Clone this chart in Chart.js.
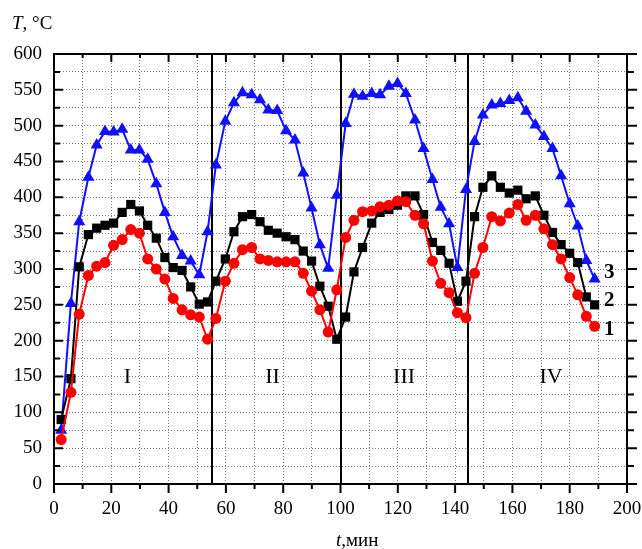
<!DOCTYPE html>
<html>
<head>
<meta charset="utf-8">
<script src="https://cdn.jsdelivr.net/npm/chart.js@4.4.1/dist/chart.umd.min.js"></script>
<style>
  html, body { margin: 0; padding: 0; background: #fff; }
  #tempChart { display: block; }
</style>
</head>
<body>
<canvas id="tempChart" width="642" height="549"></canvas>
<script>
// time of each measurement, min
const minutes = [
    2.5, 5.9, 8.8, 12, 14.9, 17.8, 20.8, 23.8, 26.8, 29.8, 32.7, 35.7, 38.7, 41.6, 44.7, 47.7, 50.7, 53.6,
    56.5, 59.8, 62.8, 65.8, 69, 71.9, 74.8, 77.9, 81, 84.1, 87, 89.9, 92.8, 95.7, 98.7,
    101.8, 104.7, 107.7, 110.9, 113.8, 116.9, 119.9, 122.8, 126, 129, 132.1, 135, 137.9, 140.8, 143.8,
    146.8, 149.7, 152.8, 155.8, 158.9, 161.9, 164.8, 168, 171, 174, 177, 180, 182.8, 185.8, 188.7
];
// curve 1 (red circles)
const temp1 = [
    62, 128, 237, 291, 304, 309, 333, 341, 355, 350, 314, 300, 286, 259, 243, 236, 233, 202,
    231, 283, 308, 327, 330, 314, 312, 310, 310, 310, 294, 269, 243, 212, 271,
    344, 368, 380, 381, 387, 389, 395, 394, 375, 363, 311, 280, 267, 239, 232,
    294, 330, 373, 367, 378, 390, 368, 375, 356, 334, 314, 288, 264, 234, 220
];
// curve 2 (black squares)
const temp2 = [
    90, 147, 303, 348, 357, 361, 364, 379, 390, 381, 361, 343, 316, 302, 298, 275, 251, 254,
    283, 314, 352, 373, 376, 366, 354, 350, 345, 341, 325, 311, 276, 248, 202,
    233, 296, 330, 364, 379, 383, 389, 402, 402, 376, 337, 326, 308, 255, 283,
    373, 414, 430, 414, 406, 410, 398, 402, 375, 351, 334, 322, 309, 261, 250
];
// curve 3 (blue triangles)
const temp3 = [
    75, 252, 366, 428, 473, 492, 491, 495, 466, 466, 453, 419, 379, 345, 319, 311, 292, 352,
    445, 506, 532, 546, 543, 536, 522, 521, 493, 480, 434, 385, 334, 301, 403,
    503, 544, 541, 545, 543, 555, 559, 545, 508, 468, 425, 386, 363, 302, 411,
    478, 515, 529, 531, 535, 539, 520, 501, 485, 468, 430, 391, 360, 312, 286
];
// stage boundaries (min) and stage names
const stageBounds = [55, 100, 144.5];
const stageNames = ['I', 'II', 'III', 'IV'];
const stageNameX = [25.6, 76.3, 122.2, 173.5];
const stageNameY = 149;
const curveNames = ['1', '2', '3'];
const curveNameY = [216, 256, 295];
const curveNameX = 193.8;

const serif = '"Liberation Serif", "DejaVu Serif", serif';

function points(ys) {
    return ys.map((y, i) => ({ x: minutes[i], y: y }));
}

const framePlugin = {
    id: 'frame',
    beforeDatasetsDraw(chart) {
        const ctx = chart.ctx;
        const area = chart.chartArea;
        const xs = chart.scales.x;
        ctx.save();
        ctx.strokeStyle = '#000';
        ctx.lineWidth = 2;
        stageBounds.forEach(t => {
            const px = Math.round(xs.getPixelForValue(t));
            ctx.beginPath();
            ctx.moveTo(px, area.top);
            ctx.lineTo(px, area.bottom);
            ctx.stroke();
        });
        ctx.restore();
    },
    afterDatasetsDraw(chart) {
        const ctx = chart.ctx;
        const area = chart.chartArea;
        const xs = chart.scales.x;
        const ys = chart.scales.y;
        ctx.save();
        ctx.strokeStyle = '#000';
        ctx.lineWidth = 2;
        ctx.strokeRect(area.left, area.top, area.right - area.left, area.bottom - area.top);

        // ticks: left and top inward, bottom and right outward
        ctx.beginPath();
        for (let t = 0; t <= 200; t += 10) {
            const px = xs.getPixelForValue(t);
            const len = t % 20 === 0 ? 9 : 5;
            ctx.moveTo(px, area.bottom);
            ctx.lineTo(px, area.bottom + len);
            ctx.moveTo(px, area.top);
            ctx.lineTo(px, area.top + len - 1);
        }
        for (let v = 0; v <= 600; v += 25) {
            const py = ys.getPixelForValue(v);
            const len = v % 50 === 0 ? 9 : 6;
            ctx.moveTo(area.left, py);
            ctx.lineTo(area.left + len, py);
            ctx.moveTo(area.right, py);
            ctx.lineTo(area.right + len + 1, py);
        }
        ctx.stroke();

        ctx.fillStyle = '#000';
        ctx.textAlign = 'center';
        ctx.textBaseline = 'middle';
        ctx.font = '22px ' + serif;
        stageNames.forEach((name, i) => {
            ctx.fillText(name, xs.getPixelForValue(stageNameX[i]), ys.getPixelForValue(stageNameY));
        });
        ctx.font = 'bold 21px ' + serif;
        curveNames.forEach((name, i) => {
            ctx.fillText(name, xs.getPixelForValue(curveNameX), ys.getPixelForValue(curveNameY[i]));
        });

        // axis titles
        ctx.textAlign = 'left';
        ctx.textBaseline = 'alphabetic';
        ctx.font = 'italic 19px ' + serif;
        ctx.fillText('T', 12, 29);
        let w = ctx.measureText('T').width;
        ctx.font = '19px ' + serif;
        ctx.fillText(', °C', 12 + w, 29);

        ctx.font = 'italic 19px ' + serif;
        ctx.fillText('t', 336, 546);
        w = ctx.measureText('t').width;
        ctx.font = '19px ' + serif;
        ctx.fillText(',мин', 336 + w, 546);
        ctx.restore();
    }
};

const ctx = document.getElementById('tempChart').getContext('2d');
new Chart(ctx, {
    type: 'line',
    data: {
        datasets: [{
            label: '1',
            data: points(temp1),
            borderColor: '#ff0000',
            backgroundColor: '#ff0000',
            borderWidth: 2,
            pointStyle: 'circle',
            pointRadius: 5.5,
            pointBorderWidth: 0
        }, {
            label: '2',
            data: points(temp2),
            borderColor: '#000000',
            backgroundColor: '#000000',
            borderWidth: 2,
            pointStyle: 'rect',
            pointRadius: 6.5,
            pointBorderWidth: 0
        }, {
            label: '3',
            data: points(temp3),
            borderColor: '#1010ff',
            backgroundColor: '#1010ff',
            borderWidth: 2,
            pointStyle: 'triangle',
            pointRadius: 7,
            pointBorderWidth: 0
        }]
    },
    options: {
        responsive: false,
        animation: false,
        layout: {
            padding: { left: 0, right: 15, top: 54, bottom: 0 }
        },
        plugins: {
            legend: { display: false },
            tooltip: { enabled: false }
        },
        scales: {
            x: {
                type: 'linear',
                min: 0,
                max: 200,
                afterFit: (scale) => {
                    scale.height = 65;
                    scale.paddingLeft = 0;
                    scale.paddingRight = 0;
                },
                ticks: {
                    stepSize: 10,
                    autoSkip: false,
                    maxRotation: 0,
                    padding: 14,
                    color: '#000',
                    font: { family: serif, size: 19 },
                    callback: (v) => (v % 20 === 0 ? v : '')
                },
                grid: { color: '#7a7a7a', lineWidth: 1, drawTicks: false },
                border: { display: false, dash: [1, 2] }
            },
            y: {
                min: 0,
                max: 600,
                afterFit: (scale) => {
                    scale.width = 54;
                    scale.paddingTop = 0;
                    scale.paddingBottom = 0;
                },
                ticks: {
                    stepSize: 25,
                    autoSkip: false,
                    padding: 12,
                    color: '#000',
                    font: { family: serif, size: 19 },
                    callback: (v) => (v % 50 === 0 ? v : '')
                },
                grid: { color: '#7a7a7a', lineWidth: 1, drawTicks: false },
                border: { display: false, dash: [1, 2] }
            }
        }
    },
    plugins: [framePlugin]
});
</script>
</body>
</html>
